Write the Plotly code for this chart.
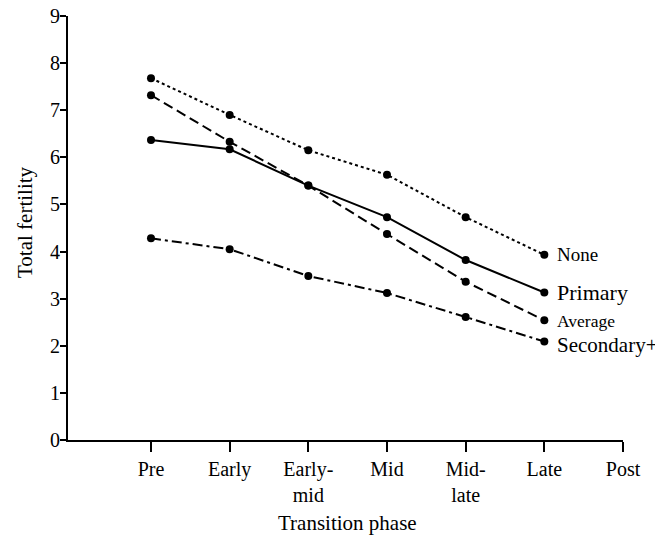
import plotly.graph_objects as go

phases = ["Pre", "Early", "Early-<br>mid", "Mid", "Mid-<br>late", "Late", "Post"]
none_vals = [7.68, 6.90, 6.15, 5.63, 4.73, 3.93]
primary_vals = [6.37, 6.17, 5.40, 4.73, 3.82, 3.13]
average_vals = [7.32, 6.33, 5.40, 4.37, 3.36, 2.54]
secondary_vals = [4.28, 4.05, 3.48, 3.12, 2.61, 2.09]

series = [
    ("None", none_vals, "3px,3px", 19, 0),
    ("Primary", primary_vals, "solid", 22, 0),
    ("Average", average_vals, "10px,5px", 17.5, -1),
    ("Secondary+", secondary_vals, "10px,4px,3px,4px", 21, -3),
]

FONT = "Liberation Serif, Times New Roman, serif"
# page body adds an 8px offset; compensate in the figure geometry
OFF = 8
L, R, T, B = 68 - OFF, 40, 16 - OFF, 95
W, H = 663 - OFF, 535 - OFF
PW, PH = W - L - R, H - T - B

fig = go.Figure()
annotations = []
for name, vals, dash, fsize, yshift in series:
    xs = list(range(len(vals)))
    fig.add_trace(go.Scatter(
        x=xs, y=vals, mode="lines+markers", name=name,
        line=dict(color="black", width=2, dash=dash),
        marker=dict(color="black", size=8),
        showlegend=False, cliponaxis=False,
    ))
    annotations.append(dict(
        x=xs[-1], y=vals[-1], xref="x", yref="y", text=name,
        xanchor="left", yanchor="middle", xshift=11, yshift=yshift,
        showarrow=False, font=dict(family=FONT, size=fsize, color="black"),
    ))

annotations.append(dict(
    x=(25 - 68) / PW, y=(440 - 222) / PH, xref="paper", yref="paper",
    text="Total fertility", textangle=-90, showarrow=False,
    xanchor="center", yanchor="middle",
    font=dict(family=FONT, size=21, color="black"),
))
annotations.append(dict(
    x=(347 - 68) / PW, y=(440 - 523) / PH, xref="paper", yref="paper",
    text="Transition phase", showarrow=False,
    xanchor="center", yanchor="middle",
    font=dict(family=FONT, size=21, color="black"),
))

fig.update_layout(
    width=W, height=H,
    margin=dict(l=L, r=R, t=T, b=B, autoexpand=False),
    plot_bgcolor="white", paper_bgcolor="white",
    font=dict(family=FONT, size=20, color="black"),
    annotations=annotations,
    xaxis=dict(
        range=[-1.055, 6], automargin=False, ticklabeloverflow="allow",
        tickmode="array", tickvals=list(range(len(phases))), ticktext=phases,
        showline=True, linecolor="black", linewidth=2,
        ticks="outside", ticklen=10, tickwidth=2, tickcolor="black",
        showgrid=False, zeroline=False,
        tickfont=dict(family=FONT, size=20, color="black"),
    ),
    yaxis=dict(
        range=[0, 9], tickmode="linear", tick0=0, dtick=1, automargin=False,
        ticklabeloverflow="allow", ticklabelstandoff=-4,
        showline=True, linecolor="black", linewidth=2,
        ticks="outside", ticklen=6, tickwidth=2, tickcolor="black",
        showgrid=False, zeroline=False,
        tickfont=dict(family=FONT, size=20, color="black"),
    ),
)

fig.write_html("out.html")
